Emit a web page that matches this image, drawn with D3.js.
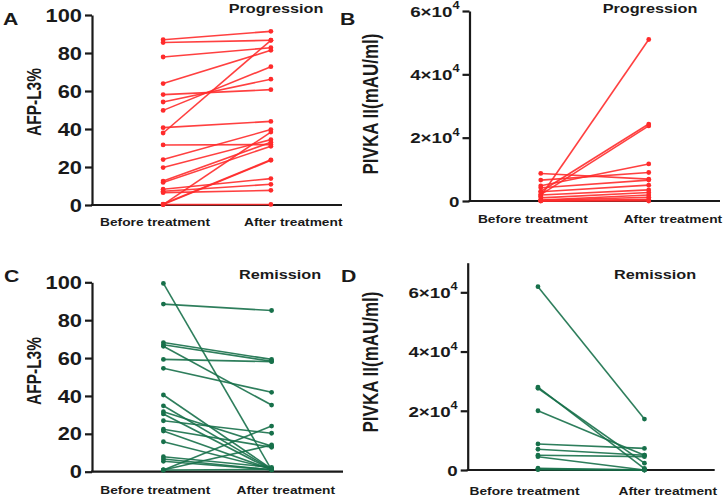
<!DOCTYPE html>
<html>
<head>
<meta charset="utf-8">
<script src="https://cdn.jsdelivr.net/npm/d3@7/dist/d3.min.js"></script>
<style>
  html, body { margin: 0; padding: 0; background: #ffffff; }
  svg { display: block; }
  text { font-family: "Liberation Sans", Arial, sans-serif; font-weight: bold; fill: #1a1a1a; }
</style>
</head>
<body>
<svg id="chart" width="725" height="497"></svg>
<script>
// ---------------- DATA ----------------
const categories = ["Before treatment", "After treatment"];

// Panel A: Progression, AFP-L3%
const afpProgBefore = [87.0, 85.5, 77.9, 63.9, 58.1, 54.2, 49.8, 40.7, 37.9, 31.6, 23.9, 19.7, 12.6, 11.9, 8.3, 7.2, 6.5, 0.2, 0.2, 0.5, 0.2];
const afpProgAfter  = [91.4, 86.7, 82.8, 81.4, 60.7, 66.2, 72.8, 44.0, 86.7, 31.8, 39.7, 34.4, 33.0, 30.9, 13.9, 10.9, 7.7, 38.4, 23.5, 23.8, 0.3];

// Panel B: Progression, PIVKA II
const pivkaProgBefore = [1500, 3000, 2000, 8700, 6600, 4800, 4200, 2900, 1900, 1000, 300, 200, 100, 50, 0];
const pivkaProgAfter  = [51000, 24300, 23700, 6900, 9000, 11700, 6600, 5000, 3500, 2700, 1900, 1200, 300, 0, 500];

// Panel C: Remission, AFP-L3%
const afpRemBefore = [99.4, 88.5, 68.2, 67.0, 66.2, 59.3, 54.6, 40.5, 34.8, 31.7, 30.5, 26.9, 22.4, 21.5, 15.8, 7.9, 6.7, 5.5, 0.9, 0.9, 0.9];
const afpRemAfter  = [1.0, 85.1, 59.3, 58.3, 35.2, 58.1, 41.9, 1.5, 1.3, 13.5, 1.0, 20.3, 12.9, 1.2, 1.5, 2.3, 1.0, 1.0, 24.1, 14.1, 1.2];

// Panel D: Remission, PIVKA II
const pivkaRemBefore = [61900, 28000, 27600, 20000, 8800, 7000, 5000, 4500, 600, 300, 100];
const pivkaRemAfter  = [17200, 500, 2300, 5000, 7300, 5000, 4500, 0, 0, 100, 0];

const afpTicks = [0, 20, 40, 60, 80, 100];
const pivkaTicks = [0, 20000, 40000, 60000];

const panelLetters = ["A", "B", "C", "D"];
const panelTitles = ["Progression", "Progression", "Remission", "Remission"];
const yTitles = ["AFP-L3%", "PIVKA II(mAU/ml)", "AFP-L3%", "PIVKA II(mAU/ml)"];

// ---------------- STYLE ----------------
const RED = "#ff2b2b";
const GREEN = "#17704a";
const SX = 1.25; // horizontal stretch of text in the reference

const svg = d3.select("#chart");

function stretchedText(g, x, y, str, size, anchor) {
  return g.append("text")
    .attr("transform", `translate(${x},${y}) scale(${SX},1)`)
    .attr("text-anchor", anchor || "start")
    .attr("font-size", size)
    .text(str);
}

function drawPanel(p) {
  const g = svg.append("g");
  const x = d3.scalePoint().domain(categories).range([p.x0, p.x1]).padding(0.66);
  const xl = d3.scalePoint().domain(categories).range([p.x0 + p.lab[0] * (p.x1 - p.x0), p.x0 + p.lab[1] * (p.x1 - p.x0)]);
  const y = d3.scaleLinear().domain(p.domain).range([p.yb, p.yt]);

  // y axis
  const yAxis = d3.axisLeft(y).tickValues(p.ticks).tickSize(7).tickSizeOuter(0);
  const ya = g.append("g").attr("transform", `translate(${p.x0},0)`).call(yAxis);
  ya.select(".domain").attr("stroke", "#1a1a1a").attr("stroke-width", 2.2);
  ya.selectAll(".tick line").attr("stroke", "#1a1a1a").attr("stroke-width", 2.2);
  ya.selectAll(".tick text").remove();
  ya.selectAll(".tick").each(function(d) {
    const t = d3.select(this).append("text")
      .attr("transform", `translate(-10,0) scale(${SX},1)`)
      .attr("text-anchor", "end")
      .attr("dy", "0.35em")
      .attr("font-size", p.tickSize)
      .attr("fill", "#1a1a1a");
    if (p.sci && d !== 0) {
      t.append("tspan").text(`${d / 10000}×10`);
      t.append("tspan").attr("font-size", p.tickSize * 0.68).attr("dy", "-0.75em").text("4");
    } else {
      t.text(d3.format("d")(d));
    }
  });

  // x axis line
  g.append("line")
    .attr("x1", p.x0 - 1).attr("x2", p.x1)
    .attr("y1", p.yb).attr("y2", p.yb)
    .attr("stroke", "#1a1a1a").attr("stroke-width", 2.2);

  // pairs
  const pairs = p.before.map((b, i) => [b, p.after[i]]);
  g.append("g").selectAll("line").data(pairs).join("line")
    .attr("x1", x(categories[0])).attr("x2", x(categories[1]))
    .attr("y1", d => y(d[0])).attr("y2", d => y(d[1]))
    .attr("stroke", p.color).attr("stroke-width", 1.6).attr("stroke-opacity", 0.9);
  g.append("g").selectAll("circle").data(p.before).join("circle")
    .attr("cx", x(categories[0])).attr("cy", d => y(d)).attr("r", 2.4).attr("fill", p.color);
  g.append("g").selectAll("circle").data(p.after).join("circle")
    .attr("cx", x(categories[1])).attr("cy", d => y(d)).attr("r", 2.4).attr("fill", p.color);

  // category labels
  categories.forEach(c => {
    stretchedText(g, xl(c), p.labY, c, 11, "middle");
  });

  // title, letter
  stretchedText(g, p.titleX, p.titleY, p.title, 13, "middle");
  stretchedText(g, p.letterX, p.letterY, p.letter, 17, "start");

  // y title
  g.append("text")
    .attr("transform", `translate(${p.yTitleX},${p.yTitleY}) rotate(-90) scale(1,${SX})`)
    .attr("text-anchor", "middle")
    .attr("font-size", p.yTitleSize)
    .text(p.yTitle);
}

drawPanel({
  x0: 92, x1: 342, yt: 15, yb: 205, domain: [0, 100], ticks: afpTicks, sci: false, tickSize: 17.5,
  before: afpProgBefore, after: afpProgAfter, color: RED, lab: [0.252, 0.805], labY: 225.5,
  title: panelTitles[0], titleX: 276, titleY: 12.5, letter: panelLetters[0], letterX: 3, letterY: 25,
  yTitle: yTitles[0], yTitleX: 40.5, yTitleY: 102, yTitleSize: 15.5
});
drawPanel({
  x0: 469.5, x1: 720, yt: 11, yb: 201, domain: [0, 60000], ticks: pivkaTicks, sci: true, tickSize: 15,
  before: pivkaProgBefore, after: pivkaProgAfter, color: RED, lab: [0.253, 0.812], labY: 222.5,
  title: panelTitles[1], titleX: 650, titleY: 13, letter: panelLetters[1], letterX: 340, letterY: 25,
  yTitle: yTitles[1], yTitleX: 378, yTitleY: 104, yTitleSize: 17
});
drawPanel({
  x0: 92, x1: 343, yt: 282.3, yb: 471.7, domain: [0, 100], ticks: afpTicks, sci: false, tickSize: 17.5,
  before: afpRemBefore, after: afpRemAfter, color: GREEN, lab: [0.252, 0.772], labY: 494,
  title: panelTitles[2], titleX: 280, titleY: 279, letter: panelLetters[2], letterX: 4, letterY: 282,
  yTitle: yTitles[2], yTitleX: 40.5, yTitleY: 371, yTitleSize: 15.5
});
drawPanel({
  x0: 467.7, x1: 714.7, yt: 262.7, yb: 470, domain: [0, 70000], ticks: pivkaTicks, sci: true, tickSize: 15,
  before: pivkaRemBefore, after: pivkaRemAfter, color: GREEN, lab: [0.23, 0.81], labY: 495,
  title: panelTitles[3], titleX: 655, titleY: 279, letter: panelLetters[3], letterX: 341, letterY: 282,
  yTitle: yTitles[3], yTitleX: 378, yTitleY: 362, yTitleSize: 17
});
</script>
</body>
</html>
